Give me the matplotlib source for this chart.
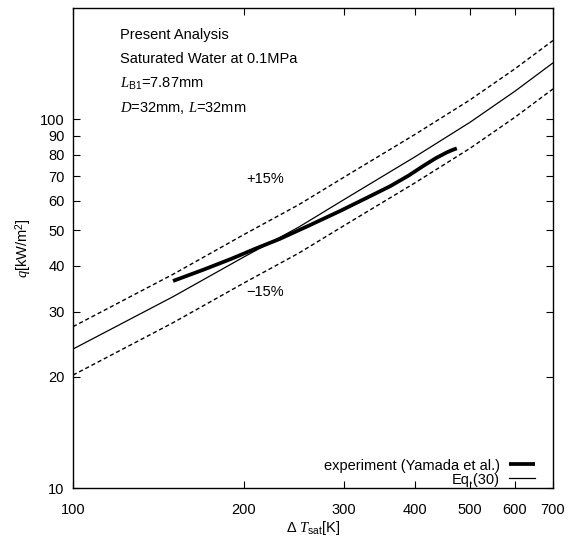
import matplotlib
matplotlib.use("Agg")
import matplotlib.pyplot as plt
import numpy as np

# Eq.(30) curve
eq_dt = [100, 150, 200, 250, 300, 400, 500, 600, 700]
eq_q = [23.8, 33.0, 42.3, 51.0, 60.5, 79.0, 98.0, 119.0, 142.0]

# experiment (Yamada et al.)
exp_dt = [150, 170, 190, 210, 231, 260, 295, 330, 362, 390, 413, 435, 455, 465, 474]
exp_q = [36.4, 39.1, 41.8, 44.6, 47.3, 51.4, 56.3, 61.3, 65.8, 70.3, 74.5, 78.3, 81.2, 82.4, 83.3]

band = 0.15
x_ticks = [100, 200, 300, 400, 500, 600, 700]
y_ticks = [10, 20, 30, 40, 50, 60, 70, 80, 90, 100]

plt.rcParams['font.family'] = ['Liberation Sans', 'DejaVu Sans']
plt.rcParams['mathtext.fontset'] = 'custom'
plt.rcParams['mathtext.rm'] = 'Liberation Sans'
plt.rcParams['mathtext.it'] = 'Liberation Serif:italic'
plt.rcParams['mathtext.bf'] = 'Liberation Sans:bold'
fs = 10.5

fig = plt.figure(figsize=(5.74, 5.38), dpi=100)
ax = fig.add_axes([73 / 574, 1 - 488 / 538, 480 / 574, 480 / 538])

eq_dt = np.array(eq_dt, dtype=float)
eq_q = np.array(eq_q, dtype=float)

ax.plot(exp_dt, exp_q, color='black', lw=2.7, solid_capstyle='butt',
        solid_joinstyle='round', label='experiment (Yamada et al.)')
ax.plot(eq_dt, eq_q, color='black', lw=0.9, label='Eq.(30)')
ax.plot(eq_dt, eq_q * (1 + band), color='black', lw=1.0, ls=(0, (3, 2)))
ax.plot(eq_dt, eq_q * (1 - band), color='black', lw=1.0, ls=(0, (3, 2)))

ax.set_xscale('log')
ax.set_yscale('log')
ax.set_xlim(100, 700)
ax.set_ylim(10, 200)
ax.set_xticks(x_ticks)
ax.set_xticklabels([str(t) for t in x_ticks])
ax.set_yticks(y_ticks)
ax.set_yticklabels([str(t) for t in y_ticks])
ax.minorticks_off()
ax.tick_params(which='both', direction='in', length=5, width=0.8,
               top=True, right=True, labelsize=fs)
ax.tick_params(axis='x', pad=11)
ax.tick_params(axis='y', pad=6)
for s in ax.spines.values():
    s.set_linewidth(1.0)

ax.set_xlabel(r'$\Delta\ T_{\mathrm{sat}}$[K]', fontsize=fs, labelpad=1)
ax.set_ylabel(r'$q$[kW/m$^2$]', fontsize=fs, labelpad=4)

info = ['Present Analysis', 'Saturated Water at 0.1MPa',
        r'$L_{\mathrm{B1}}$=7.87mm', r'$D$=32mm, $L$=32mm']
for i, t in enumerate(info):
    ax.text(0.098, 0.944 - i * 0.051, t, transform=ax.transAxes,
            fontsize=fs, va='center', ha='left')

ax.text(218, 68.7, '+15%', fontsize=fs, ha='center', va='center')
ax.text(218, 34.0, '\u221215%', fontsize=fs, ha='center', va='center')

ax.legend(loc='lower right', markerfirst=False, frameon=False,
          fontsize=fs, handlelength=1.8, handletextpad=0.6,
          labelspacing=0.0, borderpad=0.0, borderaxespad=0.0,
          bbox_to_anchor=(0.9625, 0.003))

fig.savefig('out.png', dpi=100)
